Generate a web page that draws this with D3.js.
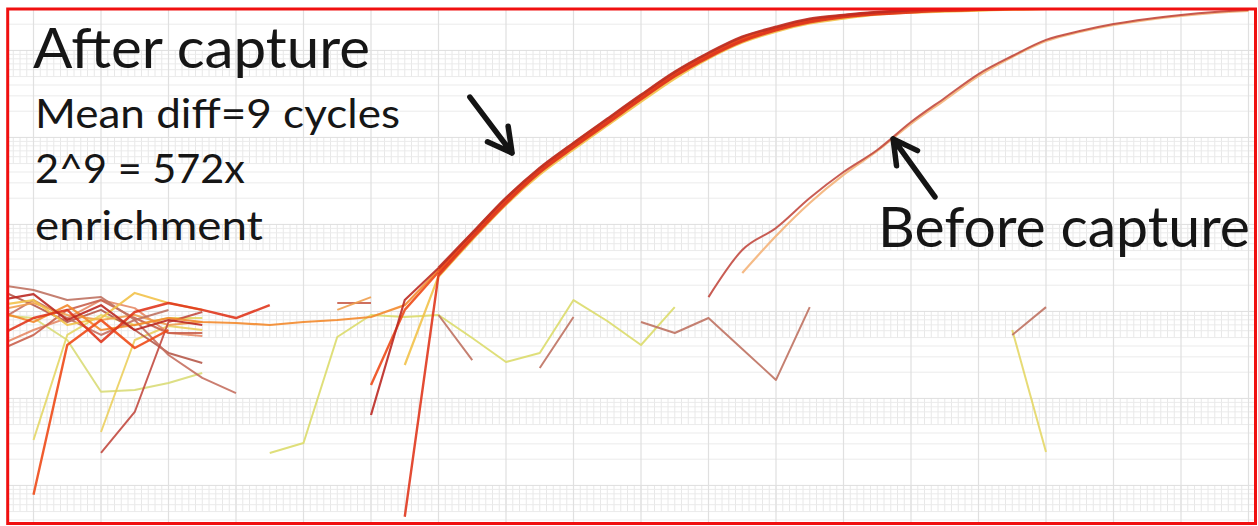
<!DOCTYPE html>
<html>
<head>
<meta charset="utf-8">
<script src="https://cdn.jsdelivr.net/npm/d3@7"></script>
<style>
  html, body { margin: 0; padding: 0; background: #fff; }
  svg { display: block; }
  text { font-family: Lato, "Open Sans", sans-serif; fill: #161616; }
</style>
</head>
<body>
<svg id="chart" width="1258" height="526"></svg>
<script>
// ---------------------------------------------------------------
// Amplification data: delta-Rn per cycle (log scale), cycles 3..40.
// null = no usable reading (negative / dropped point).
// ---------------------------------------------------------------
const _ = null;
const gap = n => Array(n).fill(null);
const cycles = d3.range(3, 41);

// After capture wells
const wellA1 = [1.35e-3, 1.58e-3, 7.96e-4, 1.18e-3, 6.11e-4, 7.96e-4, 6.98e-4, ...gap(4),
  6.45e-5, 1.35e-3, 3.15e-3, 7.96e-3, 0.0201, 0.0445, 0.0862, 0.163, 0.307, 0.565, 0.934,
  1.43, 1.86, 2.30, 2.55, 2.76, 2.91, 2.99, 3.07, 3.12, 3.15, 3.18, 3.20, 3.22, 3.24, 3.25, 3.26];
const wellA2 = [5.36e-4, 8.39e-4, 1.04e-3, 4.45e-4, 9.84e-4, 1.25e-3, 1.04e-3, 8.39e-4, 1.18e-3, ...gap(3),
  4.36e-6, 2.62e-3, 6.98e-3, 0.0176, 0.0400, 0.0776, 0.146, 0.276, 0.508, 0.840,
  1.28, 1.72, 2.12, 2.42, 2.62, 2.76, 2.88, 2.95, 3.03, 3.08, 3.12, 3.15, 3.17, 3.19, 3.20, 3.21];
const wellA3 = [_, 7.8e-6, 4.11e-4, 7.96e-4, 3.80e-4, 6.11e-4, ...gap(5),
  1.43e-4, 1.04e-3, 2.84e-3, 7.36e-3, 0.0186, 0.0411, 0.0796, 0.150, 0.284, 0.521, 0.862,
  1.32, 1.76, 2.18, 2.49, 2.69, 2.84, 2.91, 2.99, 3.07, 3.12, 3.15, 3.18, 3.20, 3.22, 3.23, 3.24];
const wellA4 = [9.84e-4, 7.55e-4, 1.18e-3, 6.11e-4, 6.98e-4, 8.39e-4, 7.55e-4, 7.36e-4, 6.98e-4, 7.55e-4, 7.96e-4,
  8.62e-4, 1.18e-3, 2.99e-3, 7.76e-3, 0.0196, 0.0433, 0.0840, 0.159, 0.299, 0.550, 0.909,
  1.39, 1.81, 2.24, 2.49, 2.69, 2.84, 2.91, 2.95, 3.00, 3.05, 3.09, 3.12, 3.14, 3.16, 3.17, 3.18];
const wellA5 = [1.18e-3, 1.35e-3, 6.98e-4, 8.39e-4, 1.63e-3, 1.25e-3, 1.04e-3, ...gap(5),
  2.42e-4, 2.55e-3, 6.80e-3, 0.0172, 0.0380, 0.0736, 0.139, 0.262, 0.482, 0.818,
  1.25, 1.67, 2.07, 2.36, 2.62, 2.76, 2.84, 2.91, 2.99, 3.05, 3.10, 3.13, 3.15, 3.17, 3.18, 3.19];

// Before capture wells
const wellB1 = [...gap(3), 2.36e-5, 6.98e-5, 7.55e-4, 9.84e-4, ...gap(14),
  1.46e-3, 5.08e-3, 9.09e-3, 0.0201, 0.0400, 0.0716, 0.150, 0.284, 0.535, 0.862,
  1.32, 1.67, 2.01, 2.30, 2.55, 2.76, 2.91];
const wellB2 = [...gap(22),
  2.76e-3, 7.36e-3, 0.0176, 0.0370, 0.0698, 0.143, 0.269, 0.508, 0.840,
  1.28, 1.63, 1.96, 2.24, 2.49, 2.69, 2.84];

// Wells that never cross threshold
const wellN1 = [4.11e-4, 6.11e-4, 8.39e-4, 1.35e-3, 1.09e-3, 5.65e-4, 5.21e-4];
const wellN2 = [...gap(8), 2.36e-5, 3.07e-5, 5.08e-4, 9.09e-4, 8.62e-4, 9.09e-4, 4.95e-4, 2.62e-4,
  3.33e-4, 1.35e-3, 7.76e-4, 4.11e-4, 1.12e-3];
const wellN3 = [2.01e-3, 1.76e-3, 1.35e-3, 1.46e-3, 7.96e-4, 1.04e-3, ...gap(7),
  9.09e-4, 2.76e-4, _, 2.24e-4, 8.62e-4, _, 7.55e-4, 5.65e-4, 8.39e-4, 3.70e-4, 1.63e-4, 1.12e-3,
  ...gap(5), 5.36e-4, 1.12e-3];
const wellN4 = [_, 3.33e-5, 5.36e-4, 9.09e-4, 6.98e-4, 8.39e-4, 8.39e-4, ...gap(23), 6.11e-4, 2.42e-5];
const wellN5 = [...gap(3), 4.11e-5, 4.69e-4, 6.80e-4, 6.11e-4];
const wellN6 = [9.09e-4, 8.39e-4, 4.69e-4, 1.19e-4, 1.25e-4, 1.50e-4, 1.96e-4];
const wellN7 = [1.76e-3, 1.18e-3, 7.55e-4, 1.04e-3, 6.11e-4, 3.33e-4, 2.55e-4];
const wellN8 = [7.96e-4, 1.35e-3, 8.39e-4, 5.36e-4, 7.96e-4, 3.15e-4, 1.72e-4, 1.15e-4];
const wellN9 = [3.60e-4, 5.36e-4, 1.04e-3, 1.35e-3, 8.39e-4, 5.65e-4, 5.65e-4, ...gap(3), 1.25e-3, 1.25e-3];
const wellN10 = [1.04e-3, 1.25e-3, 9.09e-4, 7.96e-4, 9.09e-4, 6.98e-4, 7.55e-4, ...gap(3), 1.04e-3, 1.46e-3];

// Arrow annotations, in data space (cycle, delta-Rn)
const arrowAfter = { from: [16.93, 0.291], to: [18.18, 0.0662] };
const arrowBefore = { from: [30.71, 0.0207], to: [29.47, 0.0959] };

// Drawing order and styling per well.
// `rise` = cycle from which the exponential/plateau part is drawn as a smooth curve.
const wells = [
  { values: wellN6, color: "#d9dc78", width: 2.0 },
  { values: wellN5, color: "#ebcf5e", width: 2.0 },
  { values: wellN4, color: "#e4d766", width: 2.0 },
  { values: wellN2, color: "#dcdc6c", width: 2.0 },
  { values: wellN1, color: "#e58a66", width: 2.0 },
  { values: wellN7, color: "#b65a4a", width: 2.0 },
  { values: wellN8, color: "#c57060", width: 2.0 },
  { values: wellN9, color: "#c9604c", width: 2.0 },
  { values: wellN10, color: "#f0a050", width: 2.0 },
  { values: wellN3, color: "#bf7262", width: 2.0 },
  { values: wellB2, color: "#f4b47a", width: 2.0, rise: 25, riseWidth: 2.2 },
  { values: wellB1, color: "#c24a40", width: 2.0, rise: 24, riseWidth: 2.0 },
  { values: wellA5, color: "#f2c24a", width: 2.2, rise: 16, riseWidth: 3.4 },
  { values: wellA4, color: "#f38a2c", width: 2.2, rise: 16, riseWidth: 3.4 },
  { values: wellA3, color: "#ee4b1a", width: 2.4, rise: 16, riseWidth: 3.4 },
  { values: wellA2, color: "#e0361c", width: 2.4, rise: 16, riseWidth: 3.2 },
  { values: wellA1, color: "#bb2a22", width: 2.2, rise: 16, riseWidth: 2.8 }
];

// ---------------------------------------------------------------
const svg = d3.select("#chart");
const frame = { left: 7.7, top: 9, right: 1255.5, bottom: 523.5 };

const x = d3.scaleLinear().domain([4, 40]).range([33.5, 1248.5]);
const y = d3.scaleLog().domain([1e-5, 1]).range([485.4, 50.4]);

const defs = svg.append("defs");
defs.append("clipPath").attr("id", "plot")
  .append("rect")
  .attr("x", frame.left).attr("y", frame.top)
  .attr("width", frame.right - frame.left).attr("height", frame.bottom - frame.top);
defs.append("filter").attr("id", "soft")
  .attr("x", "-5%").attr("y", "-5%").attr("width", "110%").attr("height", "110%")
  .append("feGaussianBlur").attr("stdDeviation", 0.6);

const plot = svg.append("g").attr("clip-path", "url(#plot)");

// ---- grid ----
const grid = plot.append("g").attr("filter", "url(#soft)");
const decades = d3.range(-7, 1);

// fine cycle hatching in the upper half of each decade
const hatchCycles = d3.range(2, 41.01, 0.2);
let hatch = "";
decades.forEach(d => {
  const y0 = y(5 * Math.pow(10, d)), y1 = y(Math.pow(10, d + 1));
  hatchCycles.forEach(c => { hatch += `M${x(c)},${y0}V${y1}`; });
});
grid.append("path").attr("d", hatch).attr("stroke", "#e8e8e8").attr("stroke-width", 1).attr("fill", "none");

// horizontal log lines
const hTicks = [];
decades.forEach(d => { for (let m = 1; m < 10; m++) hTicks.push({ v: m * Math.pow(10, d), major: m === 1 }); });
grid.selectAll("line.h").data(hTicks).join("line")
  .attr("class", "h")
  .attr("x1", frame.left).attr("x2", frame.right)
  .attr("y1", d => y(d.v)).attr("y2", d => y(d.v))
  .attr("stroke", d => d.major ? "#dedede" : "#ebebeb")
  .attr("stroke-width", 1);

// vertical cycle lines
grid.selectAll("line.v").data(d3.range(2, 42, 2)).join("line")
  .attr("class", "v")
  .attr("x1", d => x(d)).attr("x2", d => x(d))
  .attr("y1", frame.top).attr("y2", frame.bottom)
  .attr("stroke", "#e0e0e0").attr("stroke-width", 1.2);

// ---- amplification curves ----
const straight = d3.line()
  .defined(d => d.v != null)
  .x(d => x(d.c))
  .y(d => y(d.v));
const smooth = d3.line()
  .defined(d => d.v != null)
  .curve(d3.curveMonotoneX)
  .x(d => x(d.c))
  .y(d => y(d.v));

// split each well into a straight baseline part and a smooth rising part
const pieces = [];
wells.forEach(w => {
  const pts = w.values.map((v, i) => ({ c: cycles[i], v }));
  if (w.rise == null) {
    pieces.push({ d: straight(pts), color: w.color, width: w.width });
  } else {
    const base = pts.filter(p => p.c <= w.rise);
    const up = pts.filter(p => p.c >= w.rise);
    pieces.push({ d: straight(base), color: w.color, width: w.width });
    pieces.push({ d: smooth(up), color: w.color, width: w.riseWidth });
  }
});

const curves = plot.append("g").attr("filter", "url(#soft)");
curves.selectAll("path").data(pieces).join("path")
  .attr("d", p => p.d)
  .attr("fill", "none")
  .attr("stroke", p => p.color)
  .attr("stroke-width", p => p.width)
  .attr("stroke-opacity", 0.9)
  .attr("stroke-linejoin", "round");

// ---- frame ----
svg.append("rect")
  .attr("x", frame.left).attr("y", frame.top)
  .attr("width", frame.right - frame.left).attr("height", frame.bottom - frame.top)
  .attr("fill", "none").attr("stroke", "#f01010").attr("stroke-width", 3);

// ---- annotations ----
const notes = svg.append("g");
const label = (tx, ty, size, width, str) =>
  notes.append("text").attr("x", tx).attr("y", ty).attr("font-size", size)
    .attr("textLength", width).attr("lengthAdjust", "spacingAndGlyphs").text(str);
label(33, 68, 56, 337, "After capture");
label(35, 128, 41, 365, "Mean diff=9 cycles");
label(35, 183, 41, 210, "2^9 = 572x");
label(35, 240, 41, 228, "enrichment");
label(878, 247, 56, 372, "Before capture");

function arrow(a) {
  const [x0, y0] = [x(a.from[0]), y(a.from[1])];
  const [x1, y1] = [x(a.to[0]), y(a.to[1])];
  const ang = Math.atan2(y0 - y1, x0 - x1);
  const len = 27, spread = 0.5;
  const b1 = [x1 + len * Math.cos(ang - spread), y1 + len * Math.sin(ang - spread)];
  const b2 = [x1 + len * Math.cos(ang + spread), y1 + len * Math.sin(ang + spread)];
  const p = d3.path();
  p.moveTo(x0, y0); p.lineTo(x1, y1);
  p.moveTo(b1[0], b1[1]); p.lineTo(x1, y1); p.lineTo(b2[0], b2[1]);
  notes.append("path").attr("d", p.toString())
    .attr("fill", "none").attr("stroke", "#141414").attr("stroke-width", 5.5)
    .attr("stroke-linecap", "round").attr("stroke-linejoin", "round");
}
arrow(arrowAfter);
arrow(arrowBefore);
</script>
</body>
</html>
